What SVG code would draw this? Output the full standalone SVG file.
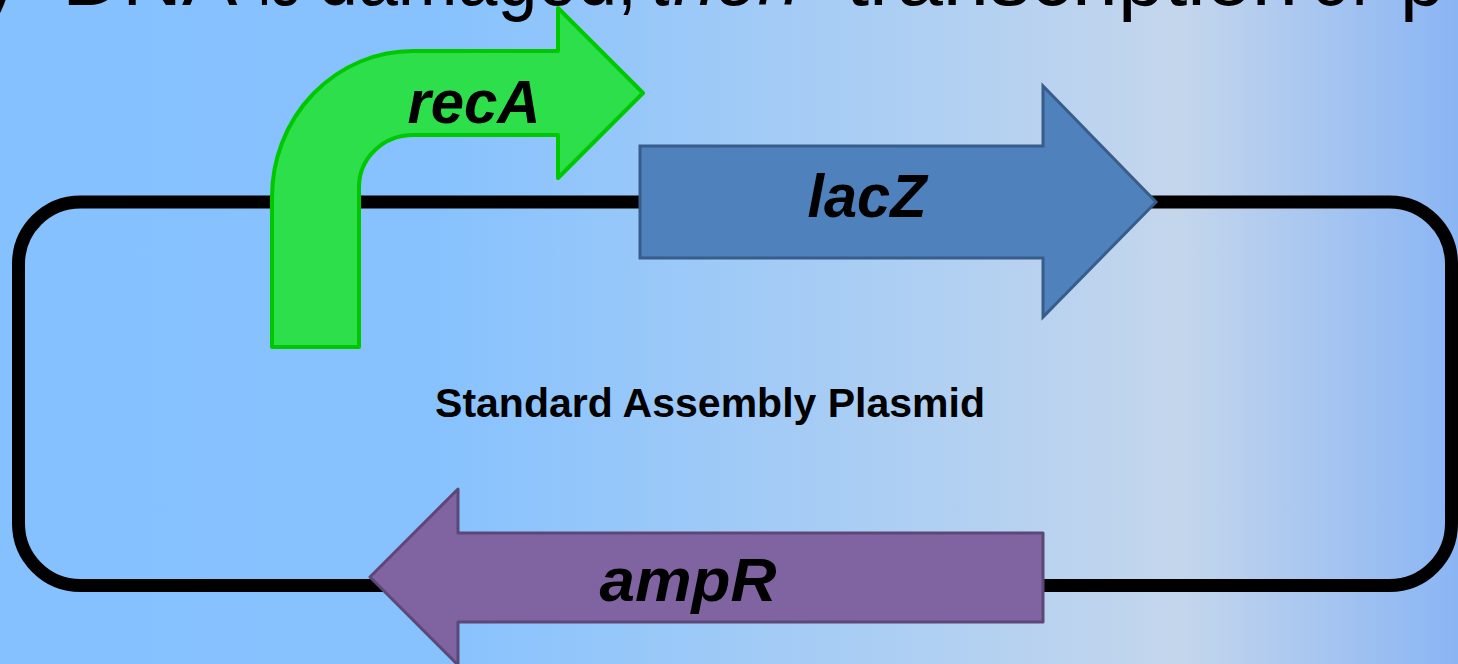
<svg xmlns="http://www.w3.org/2000/svg" width="1458" height="664" viewBox="0 0 1458 664">
  <defs>
    <linearGradient id="bg" x1="0" y1="0" x2="1458" y2="0" gradientUnits="userSpaceOnUse">
      <stop offset="0" stop-color="#85C1FF"/>
      <stop offset="0.3" stop-color="#87C2FE"/>
      <stop offset="0.81" stop-color="#C4D6EC"/>
      <stop offset="1" stop-color="#8AB5F4"/>
    </linearGradient>
    <style>
      .title { font-family: "Liberation Sans", Arial, sans-serif; font-size: 80px; fill: #000; }
      .gene { font-family: "Liberation Sans", Arial, sans-serif; font-size: 62px; font-weight: bold; font-style: italic; fill: #000; text-anchor: middle; }
      .label { font-family: "Liberation Sans", Arial, sans-serif; font-size: 41px; font-weight: bold; fill: #000; text-anchor: middle; }
      .backbone { fill: none; stroke: #000; stroke-width: 13; }
    </style>
  </defs>

  <rect x="0" y="0" width="1458" height="664" fill="url(#bg)"/>

  <g id="title">
    <text class="title" y="5">
      <tspan x="-20">y</tspan>
      <tspan x="62" textLength="171" lengthAdjust="spacingAndGlyphs">DNA</tspan>
      <tspan x="258" textLength="42" lengthAdjust="spacingAndGlyphs">is</tspan>
      <tspan x="318" textLength="319" lengthAdjust="spacingAndGlyphs">damaged,</tspan>
      <tspan x="652" font-style="italic" textLength="148" lengthAdjust="spacingAndGlyphs">then</tspan>
      <tspan x="846" textLength="452" lengthAdjust="spacingAndGlyphs">transcription</tspan>
      <tspan x="1311" textLength="59" lengthAdjust="spacingAndGlyphs">of</tspan>
      <tspan x="1400">p</tspan>
    </text>
  </g>

  <g id="connectors">
    <rect class="backbone" x="18.5" y="202" width="1433" height="383.5" rx="62" ry="62"/>
  </g>

  <g id="recA">
    <path d="M 272,347 L 272,197 A 141 146 0 0 1 413,51 L 558,51 L 558,8 L 643,93 L 558,178 L 558,135 L 413,135 A 54 52 0 0 0 359,187 L 359,347 Z" fill="#2DE04B" stroke="#00C800" stroke-width="4" stroke-linejoin="round"/>
    <text class="gene" x="474" y="123" textLength="133" lengthAdjust="spacingAndGlyphs">recA</text>
  </g>

  <g id="lacZ">
    <polygon points="640,146 1043,146 1043,86 1156,202 1043,317 1043,258 640,258" fill="#4F81BD" stroke="#385D8A" stroke-width="3"/>
    <text class="gene" x="867" y="217" textLength="119" lengthAdjust="spacingAndGlyphs">lacZ</text>
  </g>

  <g id="ampR">
    <polygon points="1043,533 458,533 458,489 370,577 458,665 458,622 1043,622" fill="#8064A2" stroke="#5C4776" stroke-width="3" stroke-linejoin="round"/>
    <text class="gene" x="688" y="601" textLength="177" lengthAdjust="spacingAndGlyphs">ampR</text>
  </g>

  <g id="plasmid-label">
    <text class="label" x="710" y="417">Standard Assembly Plasmid</text>
  </g>
</svg>
